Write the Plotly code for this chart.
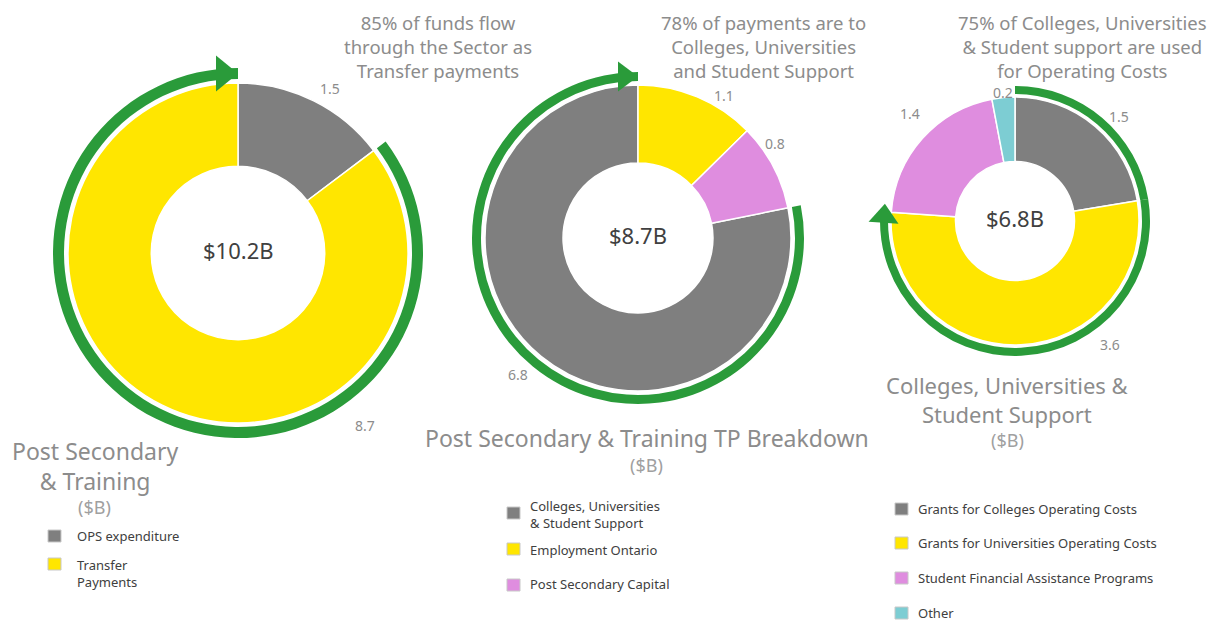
import math
import plotly.graph_objects as go

# page body has an 8px margin; coordinates below are in screenshot pixels
OFF = 8
W, H = 1224 - OFF, 622 - OFF

# ---------------- data ----------------
c1_labels = ["OPS expenditure", "Transfer<br>Payments"]
c1_values = [1.5, 8.7]
c1_total = "$10.2B"
c1_arc = [False, True]
c1_title = "Post Secondary<br>& Training"
c1_note = "85% of funds flow<br>through the Sector as<br>Transfer payments"

c2_labels = ["Colleges, Universities<br>& Student Support", "Employment Ontario", "Post Secondary Capital"]
c2_values = [6.8, 1.1, 0.8]
c2_total = "$8.7B"
c2_arc = [True, False, False]
c2_title = "Post Secondary & Training TP Breakdown"
c2_note = "78% of payments are to<br>Colleges, Universities<br>and Student Support"

c3_labels = ["Grants for Colleges Operating Costs", "Grants for Universities Operating Costs",
             "Student Financial Assistance Programs", "Other"]
c3_values = [1.5, 3.6, 1.4, 0.2]
c3_total = "$6.8B"
c3_arc = [True, True, False, False]
c3_title = "Colleges, Universities &<br>Student Support"
c3_note = "75% of Colleges, Universities<br>& Student support are used<br>for Operating Costs"

unit = "($B)"

# ---------------- style ----------------
GRAY = "#7F7F7F"
YELLOW = "#FFE600"
PINK = "#DF8DDF"
TEAL = "#7DCDD3"
GREEN = "#2A9B3A"
TXT = "#8C8C8C"
DARK = "#404040"
FONT = "Noto Sans"

c1_colors = [GRAY, YELLOW]
c2_colors = [GRAY, YELLOW, PINK]
c3_colors = [GRAY, YELLOW, PINK, TEAL]


def px(x):
    return (x - OFF) / W


def py(y):
    return 1 - (y - OFF) / H


def dom(cx, cy, r):
    return dict(x=[px(cx - r), px(cx + r)], y=[py(cy + r), py(cy - r)])


charts = [
    dict(labels=c1_labels, values=c1_values, colors=c1_colors, arc=c1_arc, total=c1_total,
         cx=238, cy=253, r=170, hole=0.51, arc_in=174, arc_out=185, rot_first=False,
         arrow_L=22, arrow_W=36, arrow_over=0,
         lab_pos=[(330, 88), (365, 425)],
         title=c1_title, title_pos=(95, 466), title_size=23, unit_pos=(95, 507),
         note=c1_note, note_x=438,
         sw_x=48, tx_x=75, sw_y=[536, 564], tx_y=[536, 573]),
    dict(labels=c2_labels, values=c2_values, colors=c2_colors, arc=c2_arc, total=c2_total,
         cx=638, cy=238, r=153, hole=0.49, arc_in=157, arc_out=166, rot_first=True,
         arrow_L=20, arrow_W=30, arrow_over=0,
         lab_pos=[(518, 374), (724, 95), (775, 143)],
         title=c2_title, title_pos=(647, 438), title_size=23, unit_pos=(647, 465),
         note=c2_note, note_x=763,
         sw_x=507, tx_x=528, sw_y=[513, 549, 585], tx_y=[514, 550, 584]),
    dict(labels=c3_labels, values=c3_values, colors=c3_colors, arc=c3_arc, total=c3_total,
         cx=1015, cy=221, r=124, hole=0.48, arc_in=127, arc_out=135, rot_first=False,
         arrow_L=19, arrow_W=30, arrow_over=8,
         lab_pos=[(1119, 117), (1110, 344), (910, 114), (1003, 92)],
         title=c3_title, title_pos=(1007, 400), title_size=22, unit_pos=(1007, 440),
         note=c3_note, note_x=1082,
         sw_x=895, tx_x=916, sw_y=[509, 543, 578, 613], tx_y=[509, 543, 578, 613]),
]

fig = go.Figure()
shapes = []
annotations = []

for ch in charts:
    vals = ch["values"]
    tot = sum(vals)
    # rotation: first slice ends at 12 o'clock if rot_first, else starts there
    rot = (tot - vals[0]) / tot * 360 if ch["rot_first"] else 0
    cx, cy = ch["cx"], ch["cy"]
    plain = [l.replace("<br>", " ") for l in ch["labels"]]

    # green arc ring, as a thin donut using the same slices
    fig.add_trace(go.Pie(
        values=vals, labels=plain, sort=False,
        direction="clockwise", rotation=rot,
        hole=ch["arc_in"] / ch["arc_out"], domain=dom(cx, cy, ch["arc_out"]),
        marker=dict(colors=[GREEN if a else "rgba(0,0,0,0)" for a in ch["arc"]],
                    line=dict(width=0)),
        textinfo="none", hoverinfo="skip", showlegend=False))

    # main donut
    fig.add_trace(go.Pie(
        values=vals, labels=plain, sort=False,
        direction="clockwise", rotation=rot,
        hole=ch["hole"], domain=dom(cx, cy, ch["r"]),
        marker=dict(colors=ch["colors"], line=dict(color="white", width=1.5)),
        textinfo="none", hoverinfo="label+value", showlegend=False))

    # arrowhead at the end of the arc (angle computed from the data)
    cum = 0
    end_ang = None
    for v, a in zip(vals, ch["arc"]):
        cum += v
        if a:
            end_ang = rot + cum / tot * 360
    th = math.radians(end_ang)
    rm = (ch["arc_in"] + ch["arc_out"]) / 2
    ex, ey = cx + rm * math.sin(th), cy - rm * math.cos(th)
    tx_, ty_ = math.cos(th), math.sin(th)
    nx, ny = math.sin(th), -math.cos(th)
    tipx, tipy = ex + tx_ * ch["arrow_over"], ey + ty_ * ch["arrow_over"]
    bx, by = tipx - tx_ * ch["arrow_L"], tipy - ty_ * ch["arrow_L"]
    hw = ch["arrow_W"] / 2
    p1 = (bx + nx * hw, by + ny * hw)
    p2 = (bx - nx * hw, by - ny * hw)
    path = "M {} {} L {} {} L {} {} Z".format(px(tipx), py(tipy), px(p1[0]), py(p1[1]),
                                               px(p2[0]), py(p2[1]))
    shapes.append(dict(type="path", path=path, xref="paper", yref="paper",
                       fillcolor=GREEN, line=dict(width=0)))

    # center total
    annotations.append(dict(x=px(cx), y=py(cy - 3), xref="paper", yref="paper", text=ch["total"],
                            showarrow=False, font=dict(family=FONT, size=22, color=DARK),
                            xanchor="center", yanchor="middle"))

    # value labels
    for v, (lx, ly) in zip(vals, ch["lab_pos"]):
        annotations.append(dict(x=px(lx), y=py(ly), xref="paper", yref="paper",
                                text=f"{v:.1f}", showarrow=False,
                                font=dict(family=FONT, size=14, color=TXT),
                                xanchor="center", yanchor="middle"))

    # titles
    tx0, ty0 = ch["title_pos"]
    annotations.append(dict(x=px(tx0), y=py(ty0), xref="paper", yref="paper", text=ch["title"],
                            showarrow=False, align="center",
                            font=dict(family=FONT, size=ch["title_size"], color=TXT),
                            xanchor="center", yanchor="middle"))
    ux, uy = ch["unit_pos"]
    annotations.append(dict(x=px(ux), y=py(uy), xref="paper", yref="paper", text=unit,
                            showarrow=False, font=dict(family=FONT, size=18, color="#A0A0A0"),
                            xanchor="center", yanchor="middle"))

    # top note
    annotations.append(dict(x=px(ch["note_x"]), y=1, xref="paper", yref="paper",
                            text=ch["note"], showarrow=False, align="center",
                            font=dict(family=FONT, size=18.5, color=TXT),
                            xanchor="center", yanchor="top"))

    # legend
    for lab, col, sy, ty in zip(ch["labels"], ch["colors"], ch["sw_y"], ch["tx_y"]):
        shapes.append(dict(type="rect", xref="paper", yref="paper",
                           x0=px(ch["sw_x"]), x1=px(ch["sw_x"] + 13),
                           y0=py(sy - 6), y1=py(sy + 6),
                           fillcolor=col, line=dict(color="#C8C8C8", width=1)))
        annotations.append(dict(x=px(ch["tx_x"]), y=py(ty), xref="paper", yref="paper",
                                text=lab, showarrow=False, align="left",
                                font=dict(family=FONT, size=13, color=DARK),
                                xanchor="left", yanchor="middle"))

fig.update_layout(
    width=W, height=H,
    margin=dict(l=0, r=0, t=0, b=0),
    paper_bgcolor="white", plot_bgcolor="white",
    showlegend=False,
    shapes=shapes, annotations=annotations,
)

fig.write_html("out.html")
